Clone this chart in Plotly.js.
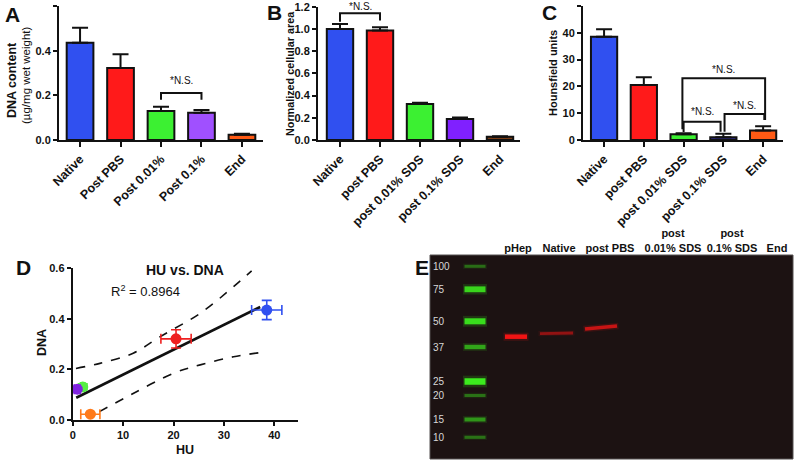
<!DOCTYPE html>
<html>
<head>
<meta charset="utf-8">
<script src="https://cdn.plot.ly/plotly-3.0.1.min.js"></script>
<style>html,body{margin:0;padding:0;background:#fff;}#chart{width:795px;height:462px;}</style>
</head>
<body>
<div id="chart"></div>
<script>
// ---------- Panel A: DNA content ----------
const catsA = ['Native', 'Post PBS', 'Post 0.01%', 'Post 0.1%', 'End'];
const dnaMean = [0.436, 0.322, 0.130, 0.122, 0.024];
const dnaErr = [0.067, 0.062, 0.019, 0.012, 0.004];
const ticksA = [0, 0.2, 0.4, 0.6];
// ---------- Panel B: normalized cellular area ----------
const catsB = ['Native', 'post PBS', 'post 0.01% SDS', 'post 0.1% SDS', 'End'];
const areaMean = [1.0, 0.985, 0.325, 0.19, 0.03];
const areaErr = [0.045, 0.03, 0.01, 0.012, 0.004];
const ticksB = [0, 0.2, 0.4, 0.6, 0.8, 1.0, 1.2];
// ---------- Panel C: Hounsfield units ----------
const catsC = ['Native', 'post PBS', 'post 0.01% SDS', 'post 0.1% SDS', 'End'];
const huMean = [38.5, 20.5, 2.1, 1.0, 3.5];
const huErr = [2.8, 2.9, 0.4, 1.3, 1.6];
const ticksC = [0, 10, 20, 30, 40, 50];
// ---------- Panel D: HU vs DNA ----------
const dHU = [38.5, 20.5, 2.0, 0.9, 3.5];
const dDNA = [0.435, 0.321, 0.131, 0.122, 0.023];
const dHUErr = [3.0, 3.0, 0.4, 0.6, 1.9];
const dDNAErr = [0.038, 0.036, 0.012, 0.006, 0.004];
const fitHU = [0.7, 37.2];
const fitDNA = [0.088, 0.447];
const upperHU = [0.65, 5.4, 12.0, 17.3, 25.3, 31.9, 35.5];
const upperDNA = [0.204, 0.224, 0.264, 0.329, 0.422, 0.527, 0.59];
const lowerHU = [5.3, 12.0, 20.0, 25.3, 31.9, 38.5];
const lowerDNA = [0.033, 0.105, 0.185, 0.218, 0.25, 0.27];
const ticksDx = [0, 10, 20, 30, 40];
const ticksDy = [0, 0.2, 0.4, 0.6];
const r2 = 0.8964;
// ---------- Panel E: western blot ----------
const laneLabels = ['pHep', 'Native', 'post PBS', 'post<br>0.01% SDS', 'post<br>0.1% SDS', 'End'];
const lanePos = [88, 129, 180, 243, 302, 347];
const ladderLanePos = 45;
const ladderMW = ['100', '75', '50', '37', '25', '20', '15', '10'];
const ladderMig = [11.3, 34.3, 66.3, 92.0, 126.5, 140.5, 164.5, 182.3];
const ladderSignal = [0.22, 0.85, 0.9, 0.55, 1.0, 0.25, 0.45, 0.25];
const bandX = [86, 126.5, 171];
const bandHalf = [11, 16.5, 16];
const bandMigL = [81.7, 78.6, 74.0];
const bandMigR = [81.7, 78.0, 71.0];
const bandSignal = [1.0, 0.35, 0.7];
// significance brackets
const sigA = {x: [2, 2, 3, 3], y: [0.18, 0.21, 0.21, 0.18], tx: 2.5, ty: 0.268};
const sigB = {x: [0, 0, 1, 1], y: [1.065, 1.14, 1.14, 1.075], tx: 0.5, ty: 1.2};
const sigC = [
  {x: [1.97, 1.97, 4.05, 4.05], y: [4.0, 23, 23, 7.5], tx: 3.0, ty: 26.2},
  {x: [2.0, 2.0, 2.93, 2.93], y: [3.0, 6.8, 6.8, 3.1], tx: 2.47, ty: 10.6},
  {x: [3.03, 3.03, 4.03, 4.03], y: [3.1, 9.7, 9.7, 7.5], tx: 3.53, ty: 13.0}
];

const FONT = 'Liberation Sans, Arial, Helvetica, sans-serif';
const blue = '#3050f0', red = '#ff1a1a', green = '#3cf032', orange = '#ff5a14';
const colorsA = [blue, red, green, '#a050ff', orange];
const colorsB = [blue, red, green, '#8020ff', '#7a3c14'];
const colorsC = [blue, red, green, '#2c2a8a', orange];
const colorsD = [blue, '#ee2020', '#55ee44', '#7f22e0', '#ff7a1a'];

const W = 795, H = 462;
const px = v => v / W, py = v => 1 - v / H;
const idx = [0, 1, 2, 3, 4];
const bold = s => '<b>' + s + '</b>';

const traces = [];
function barTrace(vals, errs, colors, xa, ya) {
  return {
    type: 'bar', x: idx, y: vals, width: 0.66, xaxis: xa, yaxis: ya,
    marker: {color: colors, line: {color: '#111', width: 2}},
    error_y: {type: 'data', symmetric: false, array: errs, arrayminus: errs.map(() => 0),
      color: '#111', thickness: 2, width: 8},
    showlegend: false, hoverinfo: 'skip'
  };
}
traces.push(barTrace(dnaMean, dnaErr, colorsA, 'x', 'y'));
traces.push(barTrace(areaMean, areaErr, colorsB, 'x2', 'y2'));
traces.push(barTrace(huMean, huErr, colorsC, 'x3', 'y3'));

function bracket(b, xa, ya) {
  traces.push({type: 'scatter', mode: 'lines', x: b.x, y: b.y, xaxis: xa, yaxis: ya,
    line: {color: '#111', width: 2}, cliponaxis: false, showlegend: false, hoverinfo: 'skip'});
}
bracket(sigA, 'x', 'y');
bracket(sigB, 'x2', 'y2');
sigC.forEach(b => bracket(b, 'x3', 'y3'));

// Panel D
traces.push({type: 'scatter', mode: 'lines', x: upperHU, y: upperDNA, xaxis: 'x4', yaxis: 'y4',
  line: {color: '#111', width: 1.6, dash: 'dash', shape: 'spline'}, showlegend: false, hoverinfo: 'skip'});
traces.push({type: 'scatter', mode: 'lines', x: lowerHU, y: lowerDNA, xaxis: 'x4', yaxis: 'y4',
  line: {color: '#111', width: 1.6, dash: 'dash', shape: 'spline'}, showlegend: false, hoverinfo: 'skip'});
traces.push({type: 'scatter', mode: 'lines', x: fitHU, y: fitDNA, xaxis: 'x4', yaxis: 'y4',
  line: {color: '#111', width: 2.6}, showlegend: false, hoverinfo: 'skip'});
dHU.forEach((h, i) => {
  traces.push({type: 'scatter', mode: 'markers', x: [h], y: [dDNA[i]], xaxis: 'x4', yaxis: 'y4',
    marker: {color: colorsD[i], size: 11},
    error_x: {type: 'data', array: [dHUErr[i]], color: colorsD[i], thickness: 1.6, width: 5},
    error_y: {type: 'data', array: [dDNAErr[i]], color: colorsD[i], thickness: 1.6, width: 5},
    cliponaxis: false, showlegend: false, hoverinfo: 'skip'});
});

// Panel E: bands
function band(xl, xr, yl, yr, rgb, alpha, thick) {
  traces.push({type: 'scatter', mode: 'lines', x: [xl - 1.5, xr + 1.5], y: [yl, yr], xaxis: 'x5', yaxis: 'y5',
    line: {color: `rgba(${rgb},${0.18 * alpha})`, width: thick * 1.8}, showlegend: false, hoverinfo: 'skip'});
  traces.push({type: 'scatter', mode: 'lines', x: [xl, xr], y: [yl, yr], xaxis: 'x5', yaxis: 'y5',
    line: {color: `rgba(${rgb},${alpha})`, width: thick}, showlegend: false, hoverinfo: 'skip'});
}
ladderMig.forEach((m, i) => {
  const s = ladderSignal[i];
  band(ladderLanePos - 10.5, ladderLanePos + 10.5, m, m, '60,235,30', Math.min(1, 0.2 + 0.8 * s), 2 + 4.5 * s);
});
bandX.forEach((c, i) => {
  const s = bandSignal[i];
  band(c - bandHalf[i], c + bandHalf[i], bandMigL[i], bandMigR[i], '240,20,20', Math.min(1, 0.25 + 0.75 * s), 2 + 2.5 * s);
});

const tickFontCat = {family: FONT, size: 12.5, color: '#111'};
const tickFontNum = {family: FONT, size: 11, color: '#111'};
function catX(domain, range, ticktext, anchor) {
  return {domain, range, anchor, tickvals: idx, ticktext: ticktext.map(bold), tickangle: -45, showline: true,
    linewidth: 2, linecolor: '#111', ticks: 'outside', ticklen: 5, tickwidth: 2, tickcolor: '#111',
    tickfont: tickFontCat, showgrid: false, zeroline: false, fixedrange: true};
}
function numAx(domain, range, tv, fmt, anchor) {
  return {domain, range, anchor, tickvals: tv, ticktext: tv.map(v => bold(v.toFixed(fmt))),
    showline: true, linewidth: 2, linecolor: '#111',
    ticks: 'outside', ticklen: 4, tickwidth: 2, tickcolor: '#111', tickfont: tickFontNum,
    showgrid: false, zeroline: false, fixedrange: true};
}

const layout = {
  width: W, height: H, margin: {l: 0, r: 0, t: 0, b: 0},
  paper_bgcolor: '#fff', plot_bgcolor: 'rgba(0,0,0,0)',
  font: {family: FONT, color: '#111'},
  showlegend: false,
  xaxis: catX([px(59), px(263)], [-0.52, 4.52], catsA, 'y'),
  yaxis: numAx([py(140), py(6)], [0, 0.6], ticksA, 1, 'x'),
  xaxis2: catX([px(318), px(520)], [-0.55, 4.5], catsB, 'y2'),
  yaxis2: numAx([py(140), py(6.7)], [0, 1.2], ticksB, 1, 'x2'),
  xaxis3: catX([px(583), px(783)], [-0.53, 4.5], catsC, 'y3'),
  yaxis3: numAx([py(140), py(6)], [0, 50], ticksC, 0, 'x3'),
  xaxis4: numAx([px(72.7), px(298)], [0, 44.7], ticksDx, 0, 'y4'),
  yaxis4: numAx([py(420), py(268.3)], [0, 0.6], ticksDy, 1, 'x4'),
  xaxis5: {domain: [px(430), px(793)], range: [0, 363], anchor: 'y5', side: 'top',
    tickvals: lanePos, ticktext: laneLabels.map(bold), ticks: '', showline: false, showgrid: false, zeroline: false,
    tickfont: {family: FONT, size: 11, color: '#111'}, fixedrange: true},
  yaxis5: {domain: [py(459), py(255)], range: [204, 0], anchor: 'x5', tickvals: ladderMig, ticktext: ladderMW,
    ticklabelposition: 'inside', ticks: '', showline: false, showgrid: false, zeroline: false,
    tickfont: {family: FONT, size: 10, color: '#d8d8d8'}, fixedrange: true},
  shapes: [
    {type: 'rect', xref: 'x5 domain', yref: 'y5 domain', x0: 0, x1: 1, y0: 0, y1: 1,
      fillcolor: '#1c1212', line: {color: '#555050', width: 1}, layer: 'below'}
  ],
  annotations: []
};

const ann = layout.annotations;
function label(text, x, y, size, opts) {
  ann.push(Object.assign({text, xref: 'paper', yref: 'paper', x: px(x), y: py(y), showarrow: false,
    xanchor: 'center', yanchor: 'middle', font: {family: FONT, size, color: '#111'}}, opts || {}));
}
label('<b>A</b>', 12, 15, 21);
label('<b>B</b>', 274, 13, 21);
label('<b>C</b>', 549, 13, 21);
label('<b>D</b>', 23, 267, 21);
label('<b>E</b>', 422, 267, 21);
label('<b>DNA content</b>', 12, 80, 12.5, {textangle: -90});
label('(µg/mg wet weight)', 26, 75, 11.5, {textangle: -90});
label('<b>Normalized cellular area</b>', 290, 74, 10.8, {textangle: -90});
label('<b>Hounsfield units</b>', 553, 73, 11, {textangle: -90});
label('<b>HU vs. DNA</b>', 185, 270, 14);
label('R<sup>2</sup> = ' + r2.toFixed(4), 145, 291, 13);
label('<b>DNA</b>', 42, 343, 12.5, {textangle: -90});
label('<b>HU</b>', 185, 450, 12.5);

function ns(b, xr, yr) {
  ann.push({text: '*N.S.', xref: xr, yref: yr, x: b.tx, y: b.ty, showarrow: false,
    xanchor: 'center', yanchor: 'middle', font: {family: FONT, size: 10, color: '#111'}});
}
ns(sigA, 'x', 'y');
ns(sigB, 'x2', 'y2');
sigC.forEach(b => ns(b, 'x3', 'y3'));

Plotly.newPlot('chart', traces, layout, {staticPlot: true, displayModeBar: false});
</script>
</body>
</html>
